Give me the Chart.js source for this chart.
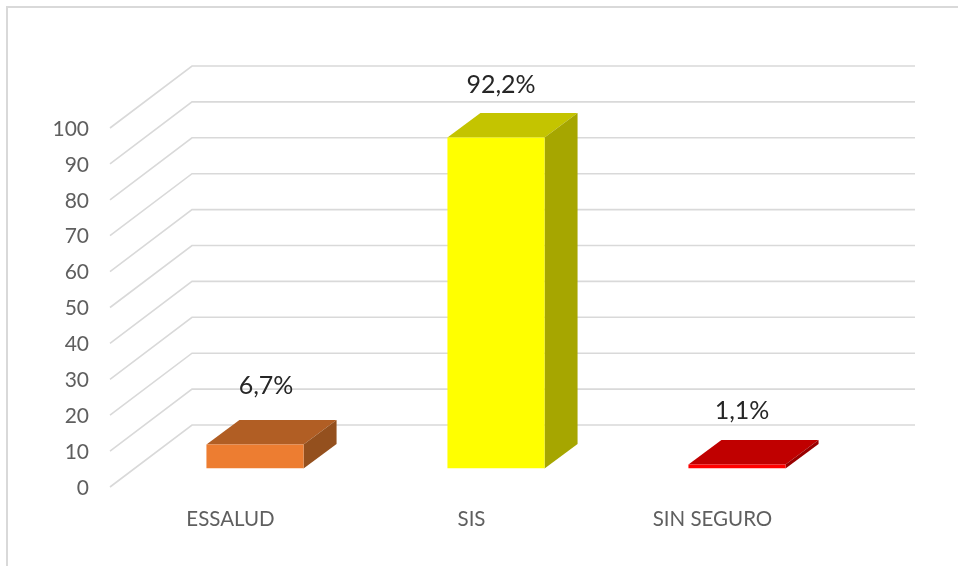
<!DOCTYPE html>
<html>
<head>
<meta charset="utf-8">
<style>html,body{margin:0;padding:0;background:#fff}canvas{display:block;filter:blur(0.4px)}</style>
<script src="https://cdn.jsdelivr.net/npm/chart.js@4"></script>
</head>
<body>
<canvas id="c" width="958" height="566"></canvas>
<script>
const categories = ['ESSALUD', 'SIS', 'SIN SEGURO'];
const values = [6.7, 92.2, 1.1];
const frontColors = ['#ED7D31', '#FFFF00', '#FF0000'];
const topColors = ['#B15E24', '#C4C400', '#C00000'];
const sideColors = ['#94501E', '#A6A600', '#990000'];
const valueLabels = ['6,7%', '92,2%', '1,1%'];

const WALL_X = 82, WALL_Y = 62;      // depth of the floor
const SHIFT_X = 24.5, SHIFT_Y = 18.5;  // bars stand inside the floor
const BAR_X = 33, BAR_Y = 24.5;      // depth of each bar
const LABEL_NUDGE = [[11, -34], [5, -28], [5, -29]];

const plugin3d = {
  id: 'plugin3d',
  beforeDraw(chart) {
    const { ctx, scales: { y }, chartArea: a } = chart;
    ctx.save();
    ctx.strokeStyle = '#D9D9D9';
    ctx.lineWidth = 2;
    ctx.beginPath();
    ctx.moveTo(7, 566); ctx.lineTo(7, 7); ctx.lineTo(958, 7);
    ctx.stroke();
    ctx.lineWidth = 1.6;
    y.ticks.forEach(t => {
      const py = y.getPixelForValue(t.value);
      ctx.beginPath();
      ctx.moveTo(a.left, py);
      ctx.lineTo(a.left + WALL_X, py - WALL_Y);
      ctx.lineTo(a.right + WALL_X, py - WALL_Y);
      ctx.stroke();
    });
    ctx.restore();
  },
  beforeDatasetsDraw(chart) {
    const ctx = chart.ctx;
    const meta = chart.getDatasetMeta(0);
    ctx.save();
    ctx.translate(SHIFT_X, -SHIFT_Y);
    meta.data.forEach((bar, i) => {
      const p = bar.getProps(['x', 'y', 'base', 'width'], true);
      const l = p.x - p.width / 2, r = p.x + p.width / 2;
      ctx.fillStyle = topColors[i];
      ctx.beginPath();
      ctx.moveTo(l, p.y); ctx.lineTo(l + BAR_X, p.y - BAR_Y);
      ctx.lineTo(r + BAR_X, p.y - BAR_Y); ctx.lineTo(r, p.y);
      ctx.closePath(); ctx.fill();
      ctx.fillStyle = sideColors[i];
      ctx.beginPath();
      ctx.moveTo(r, p.y); ctx.lineTo(r + BAR_X, p.y - BAR_Y);
      ctx.lineTo(r + BAR_X, p.base - BAR_Y); ctx.lineTo(r, p.base);
      ctx.closePath(); ctx.fill();
    });
  },
  afterDatasetsDraw(chart) {
    const ctx = chart.ctx;
    ctx.restore();
    const meta = chart.getDatasetMeta(0);
    ctx.save();
    ctx.font = '25px Lato';
    ctx.fillStyle = '#262626';
    ctx.textAlign = 'center';
    ctx.textBaseline = 'middle';
    meta.data.forEach((bar, i) => {
      const p = bar.getProps(['x', 'y'], true);
      ctx.fillText(valueLabels[i],
        p.x + SHIFT_X + LABEL_NUDGE[i][0],
        p.y - SHIFT_Y - BAR_Y + LABEL_NUDGE[i][1]);
    });
    ctx.restore();
  }
};

new Chart(document.getElementById('c'), {
  type: 'bar',
  data: {
    labels: categories,
    datasets: [{ data: values, backgroundColor: frontColors, borderWidth: 0,
      barPercentage: 0.403, categoryPercentage: 1 }]
  },
  options: {
    responsive: false,
    animation: false,
    devicePixelRatio: 1,
    layout: { padding: { left: 0, top: 128, right: 125, bottom: 0 } },
    plugins: { legend: { display: false }, tooltip: { enabled: false }, title: { display: false } },
    scales: {
      x: {
        grid: { display: false, drawTicks: false }, border: { display: false },
        ticks: { color: '#5F5F5F', font: { family: 'Lato', size: 20.5 }, padding: 20, maxRotation: 0 },
        afterFit(s) { s.height = 79; }
      },
      y: {
        min: 0, max: 100,
        grid: { display: false, drawTicks: false }, border: { display: false },
        ticks: { stepSize: 10, color: '#5F5F5F', font: { family: 'Lato', size: 21 }, padding: 21, labelOffset: 1 },
        afterFit(s) { s.width = 110; }
      }
    }
  },
  plugins: [plugin3d]
});
</script>
</body>
</html>
